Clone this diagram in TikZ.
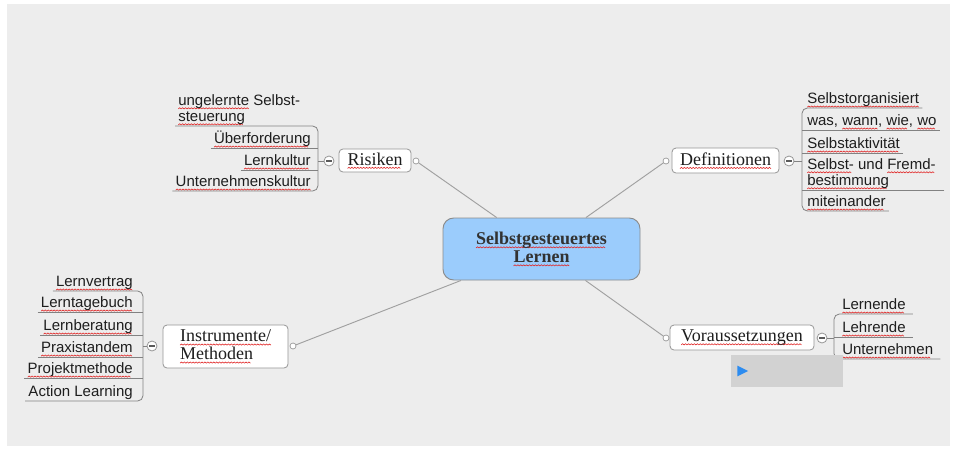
\documentclass[tikz,border=0pt]{standalone}
\usepackage{fontspec}
\setmainfont{Liberation Serif}
\setsansfont{Liberation Sans}
\definecolor{spell}{RGB}{225,40,40}
\definecolor{bgc}{RGB}{237,237,237}
\definecolor{nodeb}{RGB}{150,150,150}
\definecolor{cb}{RGB}{140,140,140}
\definecolor{cfill}{RGB}{155,204,252}
\definecolor{txt}{RGB}{30,30,30}
\definecolor{ctxt}{RGB}{50,50,50}
\definecolor{connc}{RGB}{160,160,160}
\definecolor{brkc}{RGB}{130,130,130}
\definecolor{minc}{RGB}{90,90,90}
\definecolor{boxc}{RGB}{210,210,210}
\definecolor{triblue}{RGB}{45,140,240}
\newsavebox\sqbox
\newcommand\wavecell{\tikz[x=1pt,y=1pt,reset cm,baseline=0pt]{\useasboundingbox (0,0) rectangle (2.2,0.9);\draw[draw=spell,line width=0.45pt,sharp corners,fill=none] (0,0) -- (1.1,0.9) -- (2.2,0);}}
\newcommand\sq[1]{\sbox\sqbox{#1}\rlap{\lower2.6pt\hbox to \wd\sqbox{\leaders\hbox{\wavecell}\hfill}}\usebox\sqbox}
\tikzset{
 mainnode/.style={draw=nodeb, fill=white, rounded corners=3pt, line width=0.6pt,
   font=\rmfamily\fontsize{13.5}{13.5}\selectfont, text=txt, inner sep=0pt},
 centernode/.style={draw=cb, fill=cfill, rounded corners=8pt, line width=0.7pt,
   font=\rmfamily\bfseries\fontsize{13.5}{13.5}\selectfont, text=ctxt, align=center,
   minimum width=147.75pt, minimum height=46.5pt, inner sep=0pt},
 item/.style={font=\sffamily\fontsize{11.25}{12}\selectfont, text=txt, inner xsep=2.25pt, inner ysep=0pt, text depth=3pt},
 mitem/.style={font=\sffamily\fontsize{11.25}{12}\selectfont, text=txt, inner xsep=2.25pt, inner ysep=0.6pt, align=left},
 conn/.style={draw=connc, line width=0.7pt},
 brk/.style={draw=brkc, line width=0.6pt, rounded corners=4pt},
 knob/.style={circle, draw=nodeb, fill=white, minimum size=4.5pt, inner sep=0pt, line width=0.5pt},
 minusknob/.style={circle, draw=nodeb, fill=white, minimum size=7.5pt, inner sep=0pt, line width=0.6pt,
   path picture={\draw[draw=minc, line width=0.8pt] ([xshift=-2pt]path picture bounding box.center) -- ([xshift=2pt]path picture bounding box.center);}},
 toolbar/.style={fill=boxc, draw=none, minimum width=84pt, minimum height=24pt, inner sep=0pt},
}
\begin{document}
\begin{tikzpicture}[x=0.75pt,y=-0.75pt]
\useasboundingbox (0,0) rectangle (956,450);
\fill[white] (0,0) rectangle (956,450);
\fill[bgc] (7,4) rectangle (950,446);

% central node
\node[centernode] (c) at (541.5,249) {\sq{Selbstgesteuertes}\\\sq{Lernen}};

% main branch nodes
\node[mainnode, minimum width=54pt, minimum height=17.25pt] (ris) at (375,160.5) {\sq{Risiken}};
\node[mainnode, minimum width=80.25pt, minimum height=18.75pt] (def) at (725.5,160.5) {\sq{Definitionen}};
\node[mainnode, minimum width=93.75pt, minimum height=32.25pt, align=left] (ins) at (225.5,346.5) {\sq{Instrumente/}\\\sq{Methoden}};
\node[mainnode, minimum width=108pt, minimum height=18.75pt] (vor) at (742,337.5) {\sq{Voraussetzungen}};

% connector knobs
\node[knob] (rc) at (416,161) {};
\node[knob] (dc) at (666,161) {};
\node[knob] (ic) at (293,346) {};
\node[knob] (vc) at (666,338) {};

% minus knobs
\node[minusknob] (rm) at (329,161) {};
\node[minusknob] (dm) at (789,161) {};
\node[minusknob] (im) at (152,346) {};
\node[minusknob] (vm) at (822,338) {};

% connectors to center
\draw[conn] (rc) -- (c);
\draw[conn] (dc) -- (c);
\draw[conn] (ic) -- (c);
\draw[conn] (vc) -- (c);

% Risiken items
\node[mitem, anchor=south west] (r1) at (175,126) {\sq{ungelernte} Selbst-\\\sq{steuerung}};
\node[item, anchor=south east] (r2) at (314,148) {\sq{Überforderung}};
\node[item, anchor=south east] (r3) at (314,170) {\sq{Lernkultur}};
\node[item, anchor=south east] (r4) at (314,191) {\sq{Unternehmenskultur}};
\coordinate (rbar) at (318,161);
\draw[brk] (r1.south west) -| (rbar) |- (r4.south west);
\draw[brk] (r2.south west) -- (r2.south west -| rbar);
\draw[brk] (r3.south west) -- (r3.south west -| rbar);
\draw[brk] (rbar) -- (rm);

% Definitionen items
\node[item, anchor=south west] (d1) at (804,108) {\sq{Selbstorganisiert}};
\node[item, anchor=south west] (d2) at (804,130) {was, \sq{wann}, \sq{wie}, \sq{wo}};
\node[item, anchor=south west] (d3) at (804,153) {\sq{Selbstaktivität}};
\node[mitem, anchor=south west] (d4) at (804,190) {\sq{Selbst-} und \sq{Fremd-}\\\sq{bestimmung}};
\node[item, anchor=south west] (d5) at (804,211) {\sq{miteinander}};
\coordinate (dbar) at (802,161);
\draw[brk] (d1.south east) -| (dbar) |- (d5.south east);
\draw[brk] (d2.south east) -- (d2.south east -| dbar);
\draw[brk] (d3.south east) -- (d3.south east -| dbar);
\draw[brk] ([xshift=4pt]d4.south east) -- (d4.south east -| dbar);
\draw[brk] (dbar) -- (dm);

% Instrumente items
\node[item, anchor=south east] (i1) at (136,291) {\sq{Lernvertrag}};
\node[item, anchor=south east] (i2) at (136,312) {\sq{Lerntagebuch}};
\node[item, anchor=south east] (i3) at (136,335) {\sq{Lernberatung}};
\node[item, anchor=south east] (i4) at (136,357) {\sq{Praxistandem}};
\node[item, anchor=south east] (i5) at (136,378) {\sq{Projektmethode}};
\node[item, anchor=south east] (i6) at (136,401) {Action Learning};
\coordinate (ibar) at (143,346);
\draw[brk] (i1.south west) -| (ibar) |- (i6.south west);
\draw[brk] (i2.south west) -- (i2.south west -| ibar);
\draw[brk] (i3.south west) -- (i3.south west -| ibar);
\draw[brk] (i4.south west) -- (i4.south west -| ibar);
\draw[brk] (i5.south west) -- (i5.south west -| ibar);
\draw[brk] (ibar) -- (im);

% Voraussetzungen items
\node[item, anchor=south west] (v1) at (839,314) {\sq{Lernende}};
\node[item, anchor=south west] (v2) at (839,337) {\sq{Lehrende}};
\node[item, anchor=south west] (v3) at (839,359) {\sq{Unternehmen}};
\coordinate (vbar) at (834,338);
\draw[brk] ([xshift=3pt]v1.south east) -| (vbar) |- ([xshift=3pt]v3.south east);
\draw[brk] ([xshift=3pt]v2.south east) -- (v2.south east -| vbar);
\draw[brk] (vbar) -- (vm);

% toolbar box with play triangle
\node[toolbar] (tb) at (787,371) {};
\fill[triblue] ([xshift=5pt,yshift=-4pt]tb.west) -- ([xshift=13pt]tb.west) -- ([xshift=5pt,yshift=4pt]tb.west) -- cycle;
\end{tikzpicture}
\end{document}
